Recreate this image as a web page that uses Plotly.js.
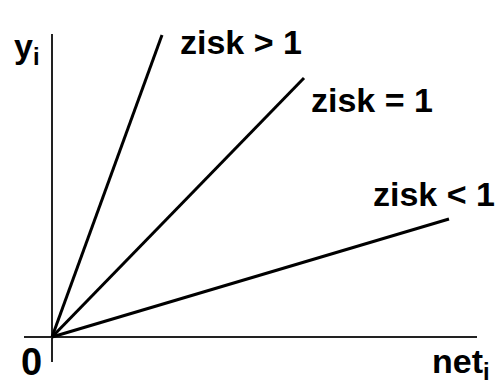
<!DOCTYPE html>
<html>
<head>
<meta charset="utf-8">
<script src="https://cdn.plot.ly/plotly-3.0.1.min.js"></script>
<style>html,body{margin:0;padding:0;background:#fff;}#chart{width:498px;height:385px;}</style>
</head>
<body>
<div id="chart"></div>
<script>
// Values (net_i on x, y_i on y; units of 100 px)
const seriesNames = ["zisk > 1", "zisk = 1", "zisk < 1"];
const netGainHigh = [0, 1.10];
const outGainHigh = [0, 3.02];
const netGainOne = [0, 2.52];
const outGainOne = [0, 2.59];
const netGainLow = [0, 3.97];
const outGainLow = [0, 1.18];

const labelX = [1.89, 3.20, 3.82];
const labelY = [2.95, 2.37, 1.43];

const axisLabels = ["y<sub>i</sub>", "net<sub>i</sub>", "0"];

const FONT = "'Liberation Sans', Arial, sans-serif";

const lineStyle = {color: "#000", width: 3};
const traces = [
  {x: netGainHigh, y: outGainHigh, name: seriesNames[0]},
  {x: netGainOne, y: outGainOne, name: seriesNames[1]},
  {x: netGainLow, y: outGainLow, name: seriesNames[2]}
].map(t => Object.assign(t, {mode: "lines", type: "scatter", line: lineStyle, hoverinfo: "skip", cliponaxis: false}));

const annFont = {family: FONT, size: 34, color: "#000", weight: "bold"};
const annotations = seriesNames.map((s, i) => ({
  x: labelX[i], y: labelY[i], xref: "x", yref: "y", text: "<b>" + s + "</b>",
  showarrow: false, xanchor: "center", yanchor: "middle", font: annFont
}));
annotations.push(
  {x: -0.25, y: 2.89, xref: "x", yref: "y", text: "<b>" + axisLabels[0] + "</b>", showarrow: false, xanchor: "center", yanchor: "middle", font: annFont},
  {x: 4.09, y: 0, xref: "x", yref: "paper", yshift: -1, text: "<b>" + axisLabels[1] + "</b>", showarrow: false, xanchor: "center", yanchor: "middle", font: annFont},
  {x: -0.21, y: 0, xref: "x", yref: "paper", yshift: 0, text: "<b>" + axisLabels[2] + "</b>", showarrow: false, xanchor: "center", yanchor: "middle", font: Object.assign({}, annFont, {size: 38})}
);

const axisCommon = {
  showgrid: false, showticklabels: false, ticks: "", showline: false,
  zeroline: true, zerolinecolor: "#222", zerolinewidth: 2, fixedrange: true
};

const layout = {
  width: 498, height: 385,
  margin: {l: 24, r: 21, t: 34, b: 23, pad: 0},
  paper_bgcolor: "#fff", plot_bgcolor: "#fff",
  showlegend: false,
  xaxis: Object.assign({range: [-0.28, 4.25]}, axisCommon),
  yaxis: Object.assign({range: [-0.25, 3.03]}, axisCommon),
  annotations: annotations
};

Plotly.newPlot("chart", traces, layout, {displayModeBar: false, staticPlot: true});
</script>
</body>
</html>
